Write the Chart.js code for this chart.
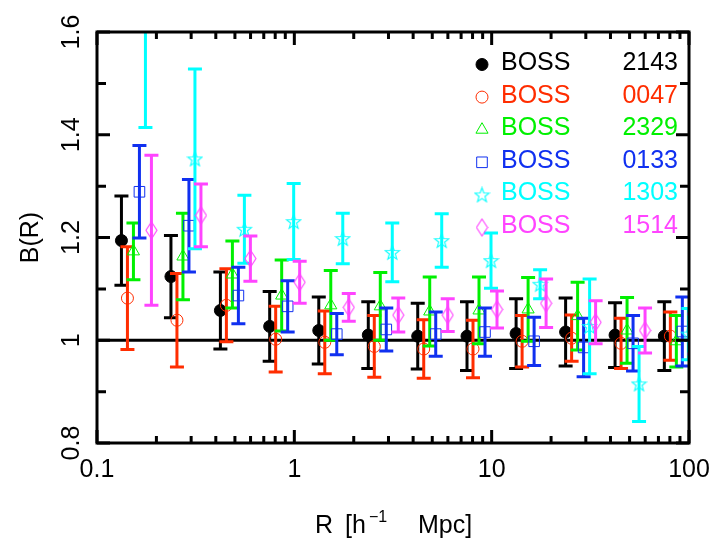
<!DOCTYPE html>
<html lang="en">
<head>
    <meta charset="UTF-8">
    <title>B(R) for BOSS fields</title>
    <script src="https://cdn.jsdelivr.net/npm/chart.js"></script>
    <style>
        html, body { margin: 0; padding: 0; background: #fff; }
    </style>
</head>
<body>
    <canvas id="myChart" width="716" height="538"></canvas>

    <script>
        // R bins in h^-1 Mpc (same for every field, shifted slightly per field when drawn)
        const radii = [0.133, 0.237, 0.422, 0.75, 1.33, 2.37, 4.22, 7.5, 13.3, 23.7, 42.2, 75];

        const fieldNames = ['2143', '0047', '2329', '0133', '1303', '1514'];

        // B(R) and symmetric 1-sigma errors per field
        const b2143 = [1.194, 1.124, 1.058, 1.027, 1.019, 1.010, 1.008, 1.008, 1.013, 1.016, 1.010, 1.008];
        const e2143 = [0.087, 0.080, 0.075, 0.068, 0.065, 0.065, 0.064, 0.067, 0.068, 0.066, 0.063, 0.067];

        const b0047 = [1.082, 1.039, 1.068, 1.002, 0.996, 0.988, 0.983, 0.983, 0.998, 1.004, 0.994, 1.008];
        const e0047 = [0.100, 0.091, 0.071, 0.064, 0.061, 0.060, 0.057, 0.056, 0.050, 0.045, 0.049, 0.047];

        const b2329 = [1.173, 1.163, 1.128, 1.087, 1.068, 1.066, 1.056, 1.058, 1.060, 1.047, 1.019, 0.998];
        const e2329 = [0.055, 0.084, 0.065, 0.069, 0.068, 0.066, 0.067, 0.065, 0.062, 0.066, 0.064, 0.050];

        const b0133 = [1.289, 1.223, 1.087, 1.066, 1.012, 1.021, 1.012, 1.016, 0.998, 0.986, 0.994, 1.017];
        const e0133 = [0.090, 0.090, 0.055, 0.050, 0.040, 0.042, 0.043, 0.047, 0.047, 0.057, 0.054, 0.067];

        const b1303 = [1.614, 1.353, 1.216, 1.231, 1.198, 1.171, 1.194, 1.155, 1.109, 1.027, 0.915, 1.012];
        const e1303 = [0.200, 0.175, 0.066, 0.074, 0.049, 0.057, 0.052, 0.054, 0.028, 0.092, 0.073, 0.050];

        const b1514 = [1.214, 1.243, 1.159, 1.113, 1.064, 1.049, 1.049, 1.060, 1.072, 1.035, 1.019, 1.012];
        const e1514 = [0.146, 0.061, 0.044, 0.041, 0.027, 0.033, 0.032, 0.036, 0.047, 0.042, 0.044, 0.039];

        const values = [b2143, b0047, b2329, b0133, b1303, b1514];
        const errors = [e2143, e0047, e2329, e0133, e1303, e1514];

        const colors = ['#000000', '#ff2d00', '#00f000', '#1030f0', '#00ffff', '#ff44ff'];

        const xTickValues = [0.1, 1, 10, 100];
        const xTickLabels = ['0.1', '1', '10', '100'];
        const yTickValues = [0.8, 1.0, 1.2, 1.4, 1.6];
        const yTickLabels = ['0.8', '1', '1.2', '1.4', '1.6'];

        const dodge = 1.0725; // multiplicative x shift between fields
        const FONT = '"Liberation Sans", Arial, sans-serif';

        function starImage(color) {
            const c = document.createElement('canvas');
            c.width = 17; c.height = 17;
            const g = c.getContext('2d');
            g.strokeStyle = color;
            g.lineWidth = 1.1;
            g.beginPath();
            for (let i = 0; i < 10; i++) {
                const r = i % 2 ? 3.1 : 7.6;
                const a = -Math.PI / 2 + i * Math.PI / 5;
                const px = 8.5 + r * Math.cos(a), py = 9 + r * Math.sin(a);
                if (i === 0) g.moveTo(px, py); else g.lineTo(px, py);
            }
            g.closePath();
            g.stroke();
            return c;
        }

        function diamondImage(color) {
            const c = document.createElement('canvas');
            c.width = 13; c.height = 19;
            const g = c.getContext('2d');
            g.strokeStyle = color;
            g.lineWidth = 1.1;
            g.beginPath();
            g.moveTo(6.5, 1); g.lineTo(12, 9.5); g.lineTo(6.5, 18); g.lineTo(1, 9.5);
            g.closePath();
            g.stroke();
            return c;
        }

        const markers = [
            { style: 'circle', radius: 6, fill: true },
            { style: 'circle', radius: 6, fill: false },
            { style: 'triangle', radius: 7, fill: false },
            { style: 'rect', radius: 7.5, fill: false },
            { style: starImage(colors[4]), radius: 8, fill: false },
            { style: diamondImage(colors[5]), radius: 8, fill: false }
        ];

        // reference line at B = 1 and vertical error bars with caps
        const errorBars = {
            id: 'errorBars',
            beforeDatasetsDraw(chart) {
                const { ctx, chartArea: a, scales: { y } } = chart;
                const py = y.getPixelForValue(1);
                ctx.save();
                ctx.strokeStyle = '#000';
                ctx.lineWidth = 3;
                ctx.beginPath();
                ctx.moveTo(a.left, py);
                ctx.lineTo(a.right, py);
                ctx.stroke();
                ctx.restore();
            },
            beforeDatasetDraw(chart, args) {
                const { ctx, chartArea: a, scales: { y } } = chart;
                const ds = chart.data.datasets[args.index];
                ctx.save();
                ctx.beginPath();
                ctx.rect(a.left, a.top, a.right - a.left, a.bottom - a.top);
                ctx.clip();
                ctx.strokeStyle = ds.pointBorderColor;
                ctx.lineWidth = 3;
                ctx.beginPath();
                args.meta.data.forEach((pt, i) => {
                    const v = ds.data[i].y, e = ds.errors[i];
                    const top = y.getPixelForValue(v + e);
                    const bot = y.getPixelForValue(v - e);
                    ctx.moveTo(pt.x, top); ctx.lineTo(pt.x, bot);
                    ctx.moveTo(pt.x - 7, top); ctx.lineTo(pt.x + 7, top);
                    ctx.moveTo(pt.x - 7, bot); ctx.lineTo(pt.x + 7, bot);
                });
                ctx.stroke();
                ctx.restore();
            }
        };

        function drawMarker(ctx, k, x, y) {
            const m = markers[k];
            ctx.save();
            ctx.fillStyle = m.fill ? colors[k] : 'rgba(0,0,0,0)';
            ctx.strokeStyle = colors[k];
            ctx.lineWidth = 1;
            Chart.helpers.drawPoint(ctx, { pointStyle: m.style, radius: m.radius, rotation: 0, borderWidth: 1 }, x, y);
            ctx.restore();
        }

        // boxed axes with inward ticks, labels, titles and the key
        const frame = {
            id: 'frame',
            afterDraw(chart) {
                const { ctx, chartArea: a, scales: { x, y } } = chart;
                ctx.save();
                ctx.strokeStyle = '#000';
                ctx.lineWidth = 3;
                ctx.beginPath();
                for (const d of [0.1, 1, 10]) {
                    for (let m = 2; m <= 9; m++) {
                        const px = x.getPixelForValue(d * m);
                        ctx.moveTo(px, a.bottom); ctx.lineTo(px, a.bottom - 7);
                        ctx.moveTo(px, a.top); ctx.lineTo(px, a.top + 7);
                    }
                }
                xTickValues.forEach(v => {
                    const px = x.getPixelForValue(v);
                    ctx.moveTo(px, a.bottom); ctx.lineTo(px, a.bottom - 13);
                    ctx.moveTo(px, a.top); ctx.lineTo(px, a.top + 13);
                });
                for (let i = 0; i <= 8; i++) {
                    const py = y.getPixelForValue(0.8 + i * 0.1);
                    const len = i % 2 ? 9 : 13;
                    ctx.moveTo(a.left, py); ctx.lineTo(a.left + len, py);
                    ctx.moveTo(a.right, py); ctx.lineTo(a.right - len, py);
                }
                ctx.stroke();
                ctx.strokeRect(a.left, a.top, a.right - a.left, a.bottom - a.top);

                ctx.fillStyle = '#000';
                ctx.font = '25px ' + FONT;
                ctx.textAlign = 'center';
                ctx.textBaseline = 'alphabetic';
                xTickLabels.forEach((t, i) => {
                    ctx.fillText(t, x.getPixelForValue(xTickValues[i]), a.bottom + 34);
                });
                yTickLabels.forEach((t, i) => {
                    ctx.save();
                    ctx.translate(a.left - 18, y.getPixelForValue(yTickValues[i]));
                    ctx.rotate(-Math.PI / 2);
                    ctx.fillText(t, 0, 0);
                    ctx.restore();
                });

                // y title
                ctx.save();
                ctx.translate(38, (a.top + a.bottom) / 2);
                ctx.rotate(-Math.PI / 2);
                ctx.fillText('B(R)', 0, 0);
                ctx.restore();

                // x title: R [h^-1 Mpc]
                const cx = (a.left + a.right) / 2;
                const base = 533;
                ctx.textAlign = 'left';
                ctx.fillText('R', cx - 78, base);
                ctx.fillText('[h', cx - 48, base);
                ctx.fillText('Mpc]', cx + 25, base);
                ctx.font = '16px ' + FONT;
                ctx.fillText('\u22121', cx - 24, base - 11);

                // key
                ctx.font = '25px ' + FONT;
                fieldNames.forEach((name, k) => {
                    const by = 70 + 32.6 * k;
                    drawMarker(ctx, k, 482, by - 5.5);
                    ctx.fillStyle = colors[k];
                    ctx.textAlign = 'left';
                    ctx.fillText('BOSS', 501, by);
                    ctx.textAlign = 'right';
                    ctx.fillText(name, 678, by);
                });
                ctx.restore();
            }
        };

        const ctx = document.getElementById('myChart').getContext('2d');
        const myChart = new Chart(ctx, {
            type: 'scatter',
            data: {
                datasets: fieldNames.map((name, k) => ({
                    label: 'BOSS ' + name,
                    data: radii.map((r, i) => ({ x: r * Math.pow(dodge, k), y: values[k][i] })),
                    errors: errors[k],
                    pointStyle: markers[k].style,
                    pointRadius: markers[k].radius,
                    pointBackgroundColor: markers[k].fill ? colors[k] : 'rgba(0,0,0,0)',
                    pointBorderColor: colors[k],
                    pointBorderWidth: 1,
                    clip: 0,
                    order: fieldNames.length - k
                }))
            },
            options: {
                responsive: false,
                animation: false,
                events: [],
                layout: { padding: { left: 97, top: 32, right: 27, bottom: 95 } },
                scales: {
                    x: { type: 'logarithmic', min: 0.1, max: 100, display: false },
                    y: { type: 'linear', min: 0.8, max: 1.6, display: false }
                },
                plugins: {
                    legend: { display: false },
                    tooltip: { enabled: false }
                }
            },
            plugins: [errorBars, frame]
        });
    </script>
</body>
</html>
